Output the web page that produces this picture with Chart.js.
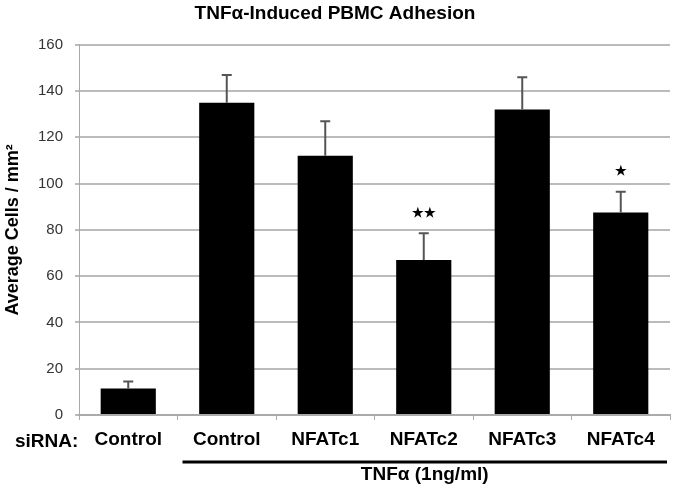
<!DOCTYPE html>
<html>
<head>
<meta charset="utf-8">
<script src="https://cdn.jsdelivr.net/npm/chart.js@4/dist/chart.umd.min.js"></script>
<style>
html,body{margin:0;padding:0;background:#fff;}
#wrap{width:675px;height:496px;position:relative;}
</style>
</head>
<body>
<div id="wrap"><canvas id="c"></canvas></div>
<script>
const categories = ["Control", "Control", "NFATc1", "NFATc2", "NFATc3", "NFATc4"];
const means = [11.5, 135, 112, 67, 132, 87.5];
const errors = [3, 12, 15, 11.5, 14, 9];
const significance = ["", "", "", "**", "", "*"];
const yTicks = [0, 20, 40, 60, 80, 100, 120, 140, 160];
const titleText = "TNFα-Induced PBMC Adhesion";
const yTitle = "Average Cells / mm²";
const rowLabel = "siRNA:";
const groupLabel = "TNFα (1ng/ml)";
const groupStart = 1, groupEnd = 5;

const FONT = "'Liberation Sans', Arial, sans-serif";

const extras = {
  id: 'extras',
  afterDatasetsDraw(chart) {
    const ctx = chart.ctx, x = chart.scales.x, y = chart.scales.y;
    ctx.save();
    ctx.strokeStyle = '#555';
    ctx.lineWidth = 2;
    means.forEach((m, i) => {
      const px = x.getPixelForValue(i);
      const top = y.getPixelForValue(m + errors[i]);
      const base = y.getPixelForValue(m);
      ctx.beginPath();
      ctx.moveTo(px, base);
      ctx.lineTo(px, top);
      ctx.moveTo(px - 5, top);
      ctx.lineTo(px + 5, top);
      ctx.stroke();
      if (significance[i]) {
        ctx.fillStyle = '#000';
        ctx.font = "bold 13px " + FONT;
        ctx.textAlign = 'center';
        ctx.textBaseline = 'middle';
        ctx.fillText(significance[i].replace(/\*/g, '★'), px, top - 20);
      }
    });
    ctx.restore();
  },
  afterDraw(chart) {
    const ctx = chart.ctx, x = chart.scales.x;
    ctx.save();
    ctx.fillStyle = '#000';
    ctx.font = "bold 19px " + FONT;
    ctx.textAlign = 'left';
    ctx.textBaseline = 'alphabetic';
    ctx.fillText(rowLabel, 15, 447);
    const half = (x.getPixelForValue(1) - x.getPixelForValue(0)) / 2;
    const x0 = x.getPixelForValue(groupStart) - half + 5;
    const x1 = x.getPixelForValue(groupEnd) + half - 3;
    ctx.strokeStyle = '#000';
    ctx.lineWidth = 3;
    ctx.beginPath();
    ctx.moveTo(x0, 462);
    ctx.lineTo(x1, 462);
    ctx.stroke();
    ctx.textAlign = 'center';
    ctx.fillText(groupLabel, (x0 + x1) / 2, 480);
    ctx.restore();
  }
};

new Chart(document.getElementById('c'), {
  type: 'bar',
  data: {
    labels: categories,
    datasets: [{
      data: means,
      backgroundColor: '#000',
      borderWidth: 0,
      categoryPercentage: 1,
      barPercentage: 0.56
    }]
  },
  options: {
    responsive: true,
    maintainAspectRatio: false,
    animation: false,
    devicePixelRatio: 1,
    layout: { padding: { left: 0, right: 5, top: 0, bottom: 0 } },
    plugins: {
      legend: { display: false },
      tooltip: { enabled: false },
      title: {
        display: true,
        text: titleText,
        color: '#000',
        font: { family: FONT, size: 19, weight: 'bold' },
        padding: { top: 2, bottom: 20 }
      }
    },
    scales: {
      x: {
        grid: { drawOnChartArea: false, drawTicks: true, tickLength: 5, color: '#aaa', lineWidth: 1 },
        border: { color: '#aaa', width: 2 },
        ticks: {
          color: '#000',
          font: { family: FONT, size: 19, weight: 'bold' },
          padding: 8,
          maxRotation: 0,
          autoSkip: false
        },
        afterFit(scale) { scale.height = 81; }
      },
      y: {
        min: 0, max: 160,
        afterBuildTicks(scale) { scale.ticks = yTicks.map(v => ({ value: v })); },
        grid: { color: '#bbb', lineWidth: 2, tickLength: 4 },
        border: { color: '#aaa', width: 1 },
        ticks: {
          color: '#333',
          font: { family: FONT, size: 15 },
          padding: 12
        },
        title: {
          display: true,
          text: yTitle,
          color: '#000',
          font: { family: FONT, size: 18, weight: 'bold' },
          padding: { top: 2, bottom: 0 }
        },
        afterFit(scale) { scale.width = 79; }
      }
    }
  },
  plugins: [extras]
});
</script>
</body>
</html>
